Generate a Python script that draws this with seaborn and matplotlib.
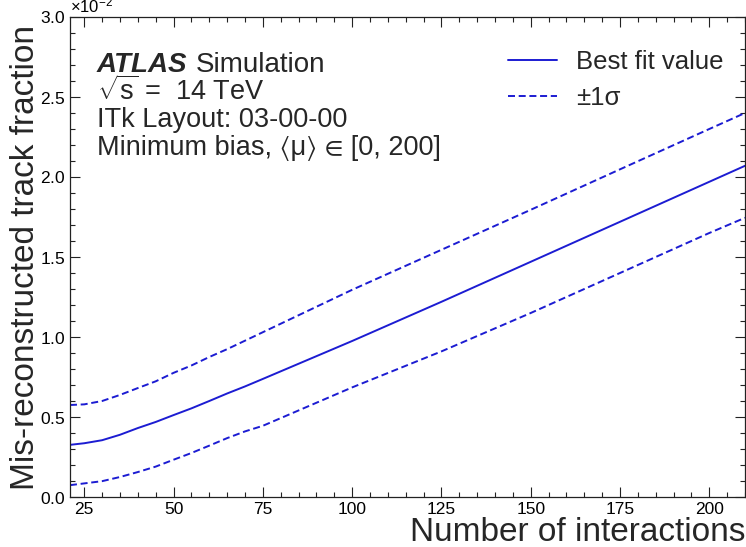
import numpy as np
import pandas as pd
import matplotlib
matplotlib.use("Agg")
import matplotlib.pyplot as plt
import seaborn as sns
from matplotlib.ticker import MultipleLocator, ScalarFormatter

# ---- data (values in units of 1e-2) ----
n_interactions = [21, 25, 30, 35, 40, 45, 50, 55, 60, 65, 70, 75, 100, 125, 150, 175, 200, 210]
best_fit = [0.326, 0.336, 0.355, 0.389, 0.431, 0.469, 0.512, 0.554, 0.600, 0.647, 0.691,
            0.738, 0.975, 1.22, 1.47, 1.72, 1.97, 2.07]
upper_1sigma = [0.575, 0.579, 0.600, 0.638, 0.681, 0.723, 0.776, 0.822, 0.875, 0.924,
                0.977, 1.03, 1.295, 1.545, 1.795, 2.048, 2.30, 2.40]
lower_1sigma = [0.074, 0.085, 0.099, 0.125, 0.156, 0.190, 0.233, 0.275, 0.321, 0.368,
                0.410, 0.445, 0.685, 0.91, 1.15, 1.40, 1.65, 1.745]
scale = 1e-2

df = pd.DataFrame({
    "mu": n_interactions,
    "best": np.array(best_fit) * scale,
    "up": np.array(upper_1sigma) * scale,
    "down": np.array(lower_1sigma) * scale,
})

sns.set_style("ticks")
plt.rcParams["font.family"] = ["Liberation Sans", "DejaVu Sans"]
plt.rcParams["mathtext.fontset"] = "custom"
plt.rcParams["mathtext.rm"] = "Liberation Sans"
plt.rcParams["mathtext.it"] = "Liberation Sans:italic"
plt.rcParams["mathtext.bf"] = "Liberation Sans:bold"

fig = plt.figure(figsize=(7.46, 5.47), dpi=100)
ax = fig.add_axes([70 / 746, 50 / 547, 675 / 746, 480 / 547])

color = "#1c1cd2"
dash = (0, (3.6, 1.9))
sns.lineplot(data=df, x="mu", y="best", ax=ax, color=color, lw=1.4,
             label="Best fit value")
sns.lineplot(data=df, x="mu", y="up", ax=ax, color=color, lw=1.4,
             linestyle=dash, label="±1σ")
sns.lineplot(data=df, x="mu", y="down", ax=ax, color=color, lw=1.4,
             linestyle=dash, label="_nolegend_")

ax.set_xlim(21, 210)
ax.set_ylim(0, 0.03)
ax.xaxis.set_major_locator(MultipleLocator(25))
ax.xaxis.set_minor_locator(MultipleLocator(5))
ax.yaxis.set_major_locator(MultipleLocator(0.005))
ax.yaxis.set_minor_locator(MultipleLocator(0.001))
fmt = ScalarFormatter(useMathText=True)
fmt.set_powerlimits((-2, -2))
ax.yaxis.set_major_formatter(fmt)
ax.yaxis.get_offset_text().set_fontsize(12)

ax.tick_params(which="both", direction="in", top=True, right=True,
               labelsize=12.5, width=0.8, colors="#222222", labelcolor="black")
ax.tick_params(which="major", length=7)
ax.tick_params(which="minor", length=3.5)
for s in ax.spines.values():
    s.set_color("#222222")
    s.set_linewidth(0.9)

ax.set_xlabel("Number of interactions", fontsize=24, loc="right", labelpad=0)
ax.set_ylabel("Mis-reconstructed track fraction", fontsize=24, labelpad=-1)

ax.text(0.04, 0.886, "ATLAS", transform=ax.transAxes, fontsize=20,
        fontweight="bold", fontstyle="italic", va="baseline")
ax.text(0.187, 0.886, "Simulation", transform=ax.transAxes, fontsize=20,
        va="baseline")
ax.text(0.04, 0.828, r"$\sqrt{\mathrm{s}}$ =  14 TeV", transform=ax.transAxes,
        fontsize=19.5, va="baseline")
ax.text(0.04, 0.771, "ITk Layout: 03-00-00", transform=ax.transAxes,
        fontsize=19.5, va="baseline")
ax.text(0.04, 0.713, "Minimum bias, ⟨μ⟩ ∈ [0, 200]",
        family=["Liberation Sans", "STIXGeneral", "DejaVu Sans"],
        transform=ax.transAxes, fontsize=19.5, va="baseline")

ax.legend(loc="upper left", bbox_to_anchor=(0.649, 0.932), frameon=False,
          fontsize=18.5, handlelength=1.9, handletextpad=0.75, labelspacing=0.5,
          borderpad=0, borderaxespad=0)

fig.savefig("out.png", dpi=100)
